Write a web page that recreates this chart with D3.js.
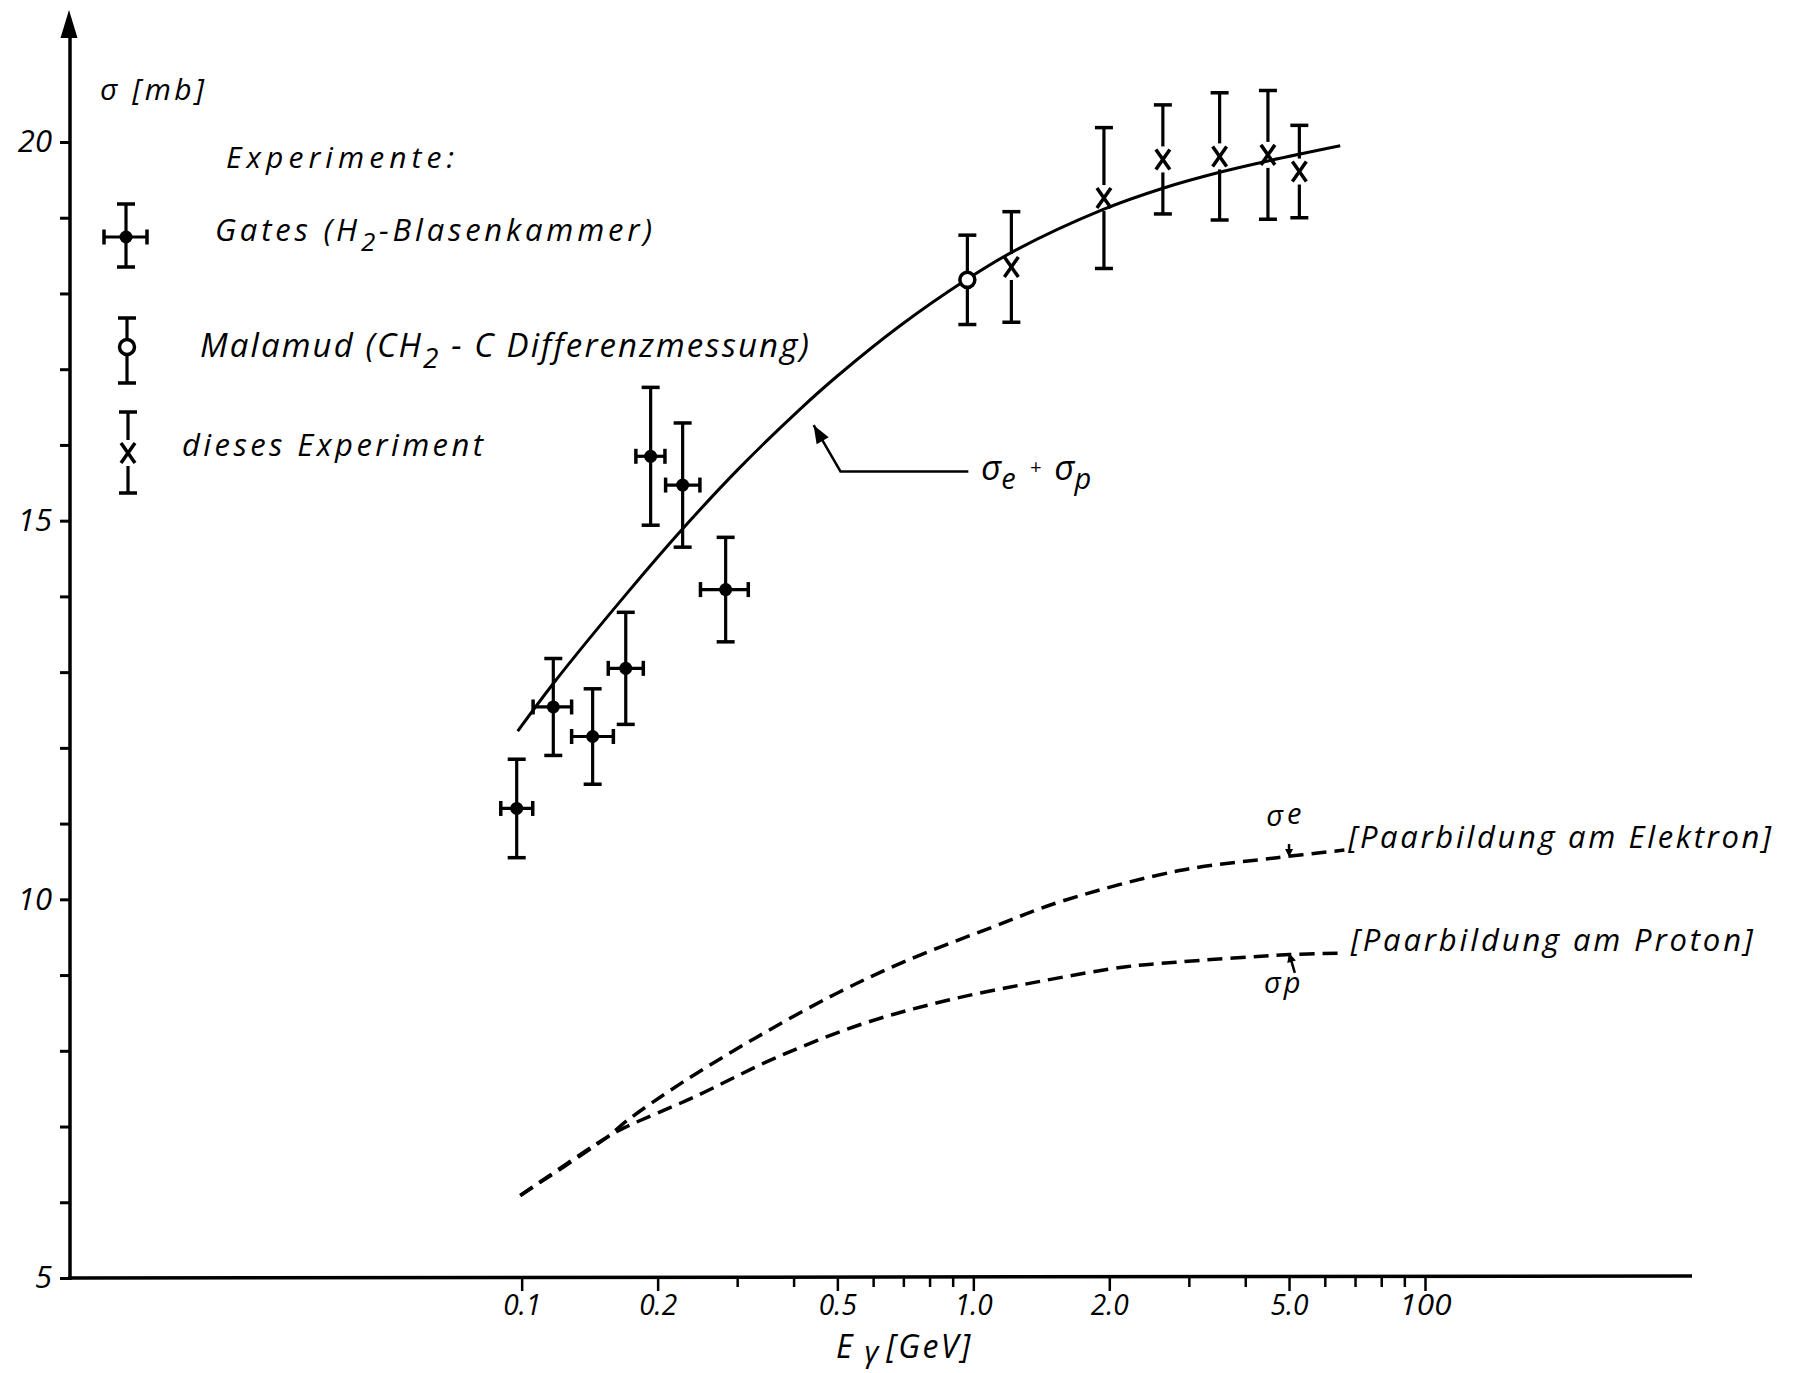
<!DOCTYPE html>
<html>
<head>
<meta charset="utf-8">
<script src="https://cdn.jsdelivr.net/npm/d3@7"></script>
<style>
body { margin: 0; background: #fff; }
svg text { font-family: "Open Sans", "DejaVu Sans", sans-serif; font-style: italic; fill: #000; }
</style>
</head>
<body>
<div id="chart"></div>
<script>
// ---- data ----
// Gates (H2 bubble chamber): energy [GeV], sigma [mb], errors
const gatesE = [0.0975, 0.1175, 0.1436, 0.170, 0.193, 0.2272, 0.2829];
const gatesELow = [0.0899, 0.106, 0.129, 0.1555, 0.179, 0.2083, 0.2488];
const gatesEHigh = [0.1058, 0.129, 0.1596, 0.1859, 0.2076, 0.2481, 0.3175];
const gatesSigma = [11.20, 12.54, 12.15, 13.05, 15.85, 15.47, 14.09];
const gatesErr = [0.65, 0.64, 0.63, 0.74, 0.91, 0.82, 0.69];

// Malamud (CH2 - C difference)
const malamudE = [0.97];
const malamudSigma = [18.18];
const malamudErr = [0.59];

// this experiment
const diesesE = [1.214, 1.946, 2.628, 3.51, 4.49, 5.27];
const diesesSigma = [18.35, 19.26, 19.77, 19.81, 19.83, 19.61];
const diesesErr = [0.73, 0.93, 0.72, 0.84, 0.85, 0.61];

// theory curves
const sumE = [0.098, 0.1175, 0.171, 0.227, 0.304, 0.413, 0.5, 0.687, 0.97, 1.23, 1.94, 2.63, 3.51, 4.49, 6.49];
const sumSigma = [12.22, 12.85, 14.04, 14.89, 15.70, 16.47, 16.91, 17.57, 18.19, 18.56, 19.11, 19.39, 19.60, 19.75, 19.95];
const elecE = [0.0993, 0.1546, 0.1713, 0.2252, 0.3316, 0.4989, 0.718, 1.11, 1.56, 2.86, 4.71, 6.63];
const elecSigma = [6.09, 6.86, 7.08, 7.57, 8.18, 8.76, 9.20, 9.64, 9.97, 10.38, 10.55, 10.65];
const protE = [0.0993, 0.1546, 0.171, 0.241, 0.3627, 0.5715, 0.8816, 1.385, 2.18, 2.81, 5.01, 6.63];
const protSigma = [6.09, 6.86, 7.0, 7.39, 7.90, 8.36, 8.67, 8.91, 9.11, 9.17, 9.27, 9.29];

// axes
const xTickValues = [0.1, 0.2, 0.3, 0.4, 0.5, 0.6, 0.7, 0.8, 0.9, 1, 2, 3, 4, 5, 6, 7, 8, 9, 10];
const xLabelValues = [0.1, 0.2, 0.5, 1, 2, 5, 10];
const xTickLabels = ["0.1", "0.2", "0.5", "1.0", "2.0", "5.0", "100"];
const yTickValues = d3.range(5, 21);
const yLabelValues = [5, 10, 15, 20];
const yTickLabels = ["5", "10", "15", "20"];

// ---- drawing ----
var width = 1795, height = 1373;
var svg = d3.select("#chart").append("svg").attr("width", width).attr("height", height);

var x = d3.scaleLog().domain([0.01, 10]).range([70, 1425]);
var y = d3.scaleLinear().domain([5, 20]).range([1278, 142]);
var x0 = x(0.01), yBase = y(5);

// y axis
var yAxis = d3.axisLeft(y).tickValues(yTickValues).tickSize(10).tickPadding(8)
  .tickFormat(function(d) { var i = yLabelValues.indexOf(d); return i >= 0 ? yTickLabels[i] : ""; });
var yAxisG = svg.append("g").attr("transform", "translate(" + x0 + ",0)").call(yAxis).attr("font-size", 31);
yAxisG.select(".domain").remove();
yAxisG.selectAll("line").attr("stroke", "#000").attr("stroke-width", 3);
svg.append("line").attr("x1", x0).attr("x2", x0).attr("y1", yBase + 2).attr("y2", 30)
  .attr("stroke", "#000").attr("stroke-width", 3.5);
svg.append("polygon").attr("points", [[x0 - 1, 10], [x0 - 9.5, 38], [x0 + 7.5, 38]].join(" ")).attr("fill", "#000");

// x axis
var xAxis = d3.axisBottom(x).tickValues(xTickValues).tickSize(9)
  .tickFormat(function(d) { var i = xLabelValues.indexOf(d); return i >= 0 ? xTickLabels[i] : ""; });
var xAxisG = svg.append("g").attr("transform", "translate(0," + yBase + ")").call(xAxis).attr("font-size", 30);
xAxisG.select(".domain").remove();
xAxisG.selectAll("line").attr("stroke", "#000").attr("stroke-width", 2.5)
  .attr("y2", function(d) { return xLabelValues.indexOf(d) >= 0 ? 13 : 9; });
xAxisG.selectAll("text").attr("y", 37).attr("dy", 0)
  .filter(function(d) { return xLabelValues.indexOf(d) >= 0; })
  .attr("textLength", function(d) { return d === 10 ? 52 : 38; })
  .attr("lengthAdjust", "spacingAndGlyphs");
svg.append("line").attr("x1", x0 - 2).attr("x2", 1692).attr("y1", yBase).attr("y2", yBase - 2)
  .attr("stroke", "#000").attr("stroke-width", 3.5);

// axis titles
svg.append("text").attr("x", 100).attr("y", 100).attr("font-size", 30).attr("class", "fit").attr("data-w", 104)
  .text("σ [mb]");
var xt = svg.append("text").attr("x", 836).attr("y", 1358).attr("font-size", 32);
xt.append("tspan").text("E");
xt.append("tspan").attr("dx", 12).attr("dy", 4).attr("font-size", 30).text("γ");
xt.append("tspan").attr("dx", 8).attr("dy", -4).attr("font-size", 32).attr("letter-spacing", 2.5).text("[GeV]");

// curves
var line = d3.line().x(function(d) { return x(d[0]); }).y(function(d) { return y(d[1]); })
  .curve(d3.curveCatmullRom.alpha(0.5));
svg.append("path").datum(d3.zip(sumE, sumSigma)).attr("d", line)
  .attr("fill", "none").attr("stroke", "#000").attr("stroke-width", 3);
[[elecE, elecSigma], [protE, protSigma]].forEach(function(c) {
  svg.append("path").datum(d3.zip(c[0], c[1])).attr("d", line)
    .attr("fill", "none").attr("stroke", "#000").attr("stroke-width", 3.5).attr("stroke-dasharray", "15,8");
});

// marker helpers
function seg(g, x1, y1, x2, y2, w) {
  g.append("line").attr("x1", x1).attr("y1", y1).attr("x2", x2).attr("y2", y2)
    .attr("stroke", "#000").attr("stroke-width", w || 3.2);
}
function vBar(g, cx, top, bot, gapTop, gapBot) {
  if (gapTop === undefined) { seg(g, cx, top, cx, bot); }
  else { seg(g, cx, top, cx, gapTop); seg(g, cx, gapBot, cx, bot); }
  seg(g, cx - 9, top, cx + 9, top, 3.5);
  seg(g, cx - 9, bot, cx + 9, bot, 3.5);
}
function gatesMark(g, cx, cy, top, bot, left, right) {
  vBar(g, cx, top, bot);
  seg(g, left, cy, right, cy);
  seg(g, left, cy - 7.5, left, cy + 7.5, 3.5);
  seg(g, right, cy - 7.5, right, cy + 7.5, 3.5);
  g.append("circle").attr("cx", cx).attr("cy", cy).attr("r", 6.5).attr("fill", "#000");
}
function malamudMark(g, cx, cy, top, bot) {
  vBar(g, cx, top, bot);
  g.append("circle").attr("cx", cx).attr("cy", cy).attr("r", 7.5)
    .attr("fill", "#fff").attr("stroke", "#000").attr("stroke-width", 3.5);
}
function crossMark(g, cx, cy, top, bot) {
  vBar(g, cx, top, bot, cy - 13, cy + 13);
  seg(g, cx - 7, cy - 10, cx + 7, cy + 10, 3.5);
  seg(g, cx + 7, cy - 10, cx - 7, cy + 10, 3.5);
}

var pts = svg.append("g");
gatesE.forEach(function(e, i) {
  gatesMark(pts, x(e), y(gatesSigma[i]), y(gatesSigma[i] + gatesErr[i]), y(gatesSigma[i] - gatesErr[i]),
    x(gatesELow[i]), x(gatesEHigh[i]));
});
malamudE.forEach(function(e, i) {
  malamudMark(pts, x(e), y(malamudSigma[i]), y(malamudSigma[i] + malamudErr[i]), y(malamudSigma[i] - malamudErr[i]));
});
diesesE.forEach(function(e, i) {
  crossMark(pts, x(e), y(diesesSigma[i]), y(diesesSigma[i] + diesesErr[i]), y(diesesSigma[i] - diesesErr[i]));
});

// legend
var leg = svg.append("g");
leg.append("text").attr("x", 226).attr("y", 168).attr("font-size", 30).attr("class", "fit").attr("data-w", 228)
  .text("Experimente:");
gatesMark(leg, 126, 237, 204, 267, 104, 147);
var t1 = leg.append("text").attr("x", 215).attr("y", 241).attr("font-size", 31).attr("class", "fit").attr("data-w", 437);
t1.append("tspan").text("Gates (H");
t1.append("tspan").attr("dy", 10).attr("font-size", 26).text("2");
t1.append("tspan").attr("dy", -10).text("-Blasenkammer)");
malamudMark(leg, 127, 347, 318, 383);
var t2 = leg.append("text").attr("x", 200).attr("y", 357).attr("font-size", 33).attr("class", "fit").attr("data-w", 609);
t2.append("tspan").text("Malamud  (CH");
t2.append("tspan").attr("dy", 11).attr("font-size", 28).text("2");
t2.append("tspan").attr("dy", -11).text(" - C Differenzmessung)");
crossMark(leg, 128, 453, 412, 493);
leg.append("text").attr("x", 182).attr("y", 456).attr("font-size", 31).attr("class", "fit").attr("data-w", 301)
  .text("dieses Experiment");

// annotations
function arrowHead(g, tip, from, len, hw) {
  var dx = tip[0] - from[0], dy = tip[1] - from[1], l = Math.sqrt(dx * dx + dy * dy);
  var ux = dx / l, uy = dy / l;
  var bx = tip[0] - ux * len, by = tip[1] - uy * len;
  g.append("polygon").attr("points", [tip, [bx - uy * hw, by + ux * hw], [bx + uy * hw, by - ux * hw]].join(" "))
    .attr("fill", "#000");
}
var ann = svg.append("g");
var tip = [x(0.443), y(16.26)], elbow = [x(0.508), y(15.65)], tail = [x(0.975), y(15.65)];
ann.append("polyline").attr("points", [tail, elbow, tip].join(" ")).attr("fill", "none")
  .attr("stroke", "#000").attr("stroke-width", 2.5);
arrowHead(ann, tip, elbow, 18, 7);
var ts = ann.append("text").attr("x", x(1.04)).attr("y", y(15.54)).attr("font-size", 35);
ts.append("tspan").text("σ");
ts.append("tspan").attr("dy", 9).attr("font-size", 29).text("e");
ts.append("tspan").attr("dy", -15).attr("dx", 14).attr("font-size", 20).text("+");
ts.append("tspan").attr("dy", 6).attr("dx", 13).text("σ");
ts.append("tspan").attr("dy", 9).attr("font-size", 29).text("p");

// sigma_e / sigma_p pointers
var eTail = [x(5.0), y(10.73)], eTip = [x(5.0), y(10.56)];
seg(ann, eTail[0], eTail[1], eTip[0], eTip[1] - 5, 2.5);
arrowHead(ann, eTip, eTail, 8, 4);
var se = ann.append("text").attr("x", x(4.45)).attr("y", y(10.97)).attr("font-size", 29);
se.append("tspan").text("σ");
se.append("tspan").attr("dx", 4).attr("dy", -2).text("e");
var pTail = [x(5.15), y(9.03)], pTip = [x(5.0), y(9.29)];
seg(ann, pTail[0], pTail[1], pTip[0], pTip[1], 2.5);
arrowHead(ann, pTip, pTail, 9, 4.5);
var sp = ann.append("text").attr("x", x(4.4)).attr("y", y(8.76)).attr("font-size", 29);
sp.append("tspan").text("σ");
sp.append("tspan").attr("dx", 3).text("p");
ann.append("text").attr("x", x(6.76)).attr("y", y(10.68)).attr("font-size", 31).attr("class", "fit").attr("data-w", 423)
  .text("[Paarbildung am Elektron]");
ann.append("text").attr("x", x(6.85)).attr("y", y(9.32)).attr("font-size", 31).attr("class", "fit").attr("data-w", 402)
  .text("[Paarbildung am Proton]");

// spread lettering to the widths in the figure
svg.selectAll("text.fit").each(function() {
  var w = +this.getAttribute("data-w");
  var n = this.getNumberOfChars();
  var cur = this.getComputedTextLength();
  d3.select(this).attr("letter-spacing", ((w - cur) / (n - 1)).toFixed(2));
});
</script>
</body>
</html>
